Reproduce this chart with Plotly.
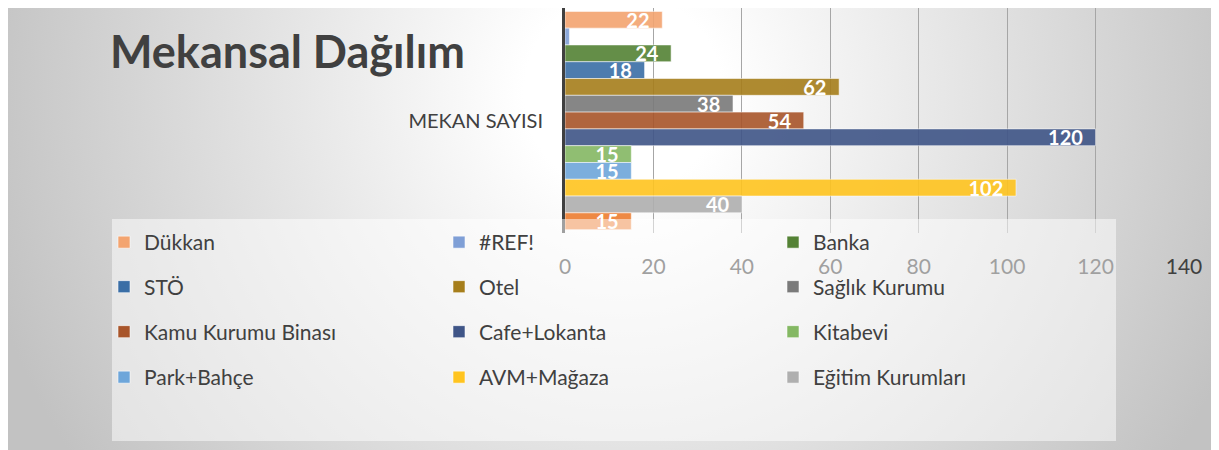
import base64
import plotly.graph_objects as go

# ---------------- data ----------------
category = ["MEKAN SAYISI"]
series_names = ["Dükkan", "#REF!", "Banka", "STÖ", "Otel", "Sağlık Kurumu",
                "Kamu Kurumu Binası", "Cafe+Lokanta", "Kitabevi", "Park+Bahçe",
                "AVM+Mağaza", "Eğitim Kurumları", ""]
series_values = [22, 1, 24, 18, 62, 38, 54, 120, 15, 15, 102, 40, 15]
show_label = [True, False, True, True, True, True, True, True, True, True, True, True, True]
x_ticks = [0, 20, 40, 60, 80, 100, 120, 140]

colors = ["#F3A470", "#7F9FD6", "#548235", "#3A6EA6", "#A67E1B", "#7A7A7A",
          "#A8552A", "#3F5587", "#84B863", "#6EA6DA", "#FFC41F", "#AFAFAF", "#ED7D31"]

# figure is drawn 8px in from the page corner (page body margin)
W, H = 1211, 442
L, R, T, B = 557, 1211 - 1176, 0, 442 - 225
PW, PH = W - L - R, H - T - B


def px_x(p):
    return (p - L) / PW


def px_y(p):
    return (H - B - p) / PH


FONT = "Lato"
TXT = "#404040"

# legend grid: 3 columns x 4 rows (figure pixels)
legend_col_x = [96, 431, 765]
legend_row_y = [234.5, 279, 324, 369.5]

fig = go.Figure()

legends = {}
k = 0
for idx, (nm, v, c, sl) in enumerate(zip(series_names, series_values, colors, show_label)):
    lg = None
    if nm:
        r, col = divmod(k, 3)
        lg = "legend" if k == 0 else f"legend{k+1}"
        legends[lg] = dict(
            orientation="v", xref="container", yref="container",
            x=legend_col_x[col] / W, y=1 - legend_row_y[r] / H,
            xanchor="left", yanchor="middle",
            bgcolor="rgba(0,0,0,0)", borderwidth=0,
            font=dict(family=FONT, size=21, color=TXT),
            itemclick=False, itemdoubleclick=False,
        )
        k += 1
    fig.add_trace(go.Bar(
        y=category, x=[v], name=nm if nm else " ", orientation="h",
        marker=dict(color=c, opacity=0.9, line=dict(color="rgba(255,255,255,0.55)", width=1)),
        text=[str(v) + "\u00a0\u00a0" if sl else ""],
        textposition="inside", insidetextanchor="end", constraintext="none",
        textfont=dict(family=FONT, size=20, color="white", weight="bold"),
        showlegend=bool(nm), legend=lg if lg else "legend",
        hovertemplate="%{y}: %{x}<extra>" + (nm if nm else "") + "</extra>",
    ))

# background gradient as an svg image
svg = (
    '<svg xmlns="http://www.w3.org/2000/svg" width="1211" height="442">'
    '<defs><radialGradient id="g" gradientUnits="userSpaceOnUse" cx="615" cy="85" r="660">'
    '<stop offset="0" stop-color="#ffffff"/><stop offset="0.15" stop-color="#ffffff"/>'
    '<stop offset="1" stop-color="#c2c2c2"/></radialGradient></defs>'
    '<rect width="1211" height="442" fill="url(#g)"/></svg>'
)
src = "data:image/svg+xml;base64," + base64.b64encode(svg.encode()).decode()

fig.update_layout(
    width=W, height=H,
    margin=dict(l=L, r=R, t=T, b=B, pad=0, autoexpand=False),
    paper_bgcolor="white", plot_bgcolor="rgba(0,0,0,0)",
    barmode="group", bargap=0.03, bargroupgap=0,
    showlegend=True,
    title=dict(text="<b>Mekansal Dağılım</b>", xref="container", yref="container",
               x=102 / W, y=1 - 44 / H, xanchor="left", yanchor="middle",
               font=dict(family=FONT, size=45, color=TXT)),
    xaxis=dict(range=[0, 140], tickvals=x_ticks, showgrid=True, automargin=False,
               gridcolor="#a6a6a6", gridwidth=1, zeroline=False, showline=False,
               tickfont=dict(family=FONT, size=21, color=TXT), ticklabelstandoff=19,
               fixedrange=True),
    yaxis=dict(autorange="reversed", showline=True, linecolor="#404040", linewidth=3,
               showgrid=False, automargin=False, tickfont=dict(family=FONT, size=20, color=TXT),
               ticklabelstandoff=15, fixedrange=True),
    images=[dict(source=src, xref="paper", yref="paper", x=px_x(0), y=px_y(0),
                 sizex=W / PW, sizey=H / PH, sizing="stretch",
                 xanchor="left", yanchor="top", layer="below")],
    shapes=[dict(type="rect", xref="paper", yref="paper",
                 x0=px_x(104), x1=px_x(1108), y0=px_y(433), y1=px_y(211),
                 fillcolor="rgba(255,255,255,0.5)", line=dict(width=0), layer="above")],
    **legends,
)

fig.write_html("out.html")
